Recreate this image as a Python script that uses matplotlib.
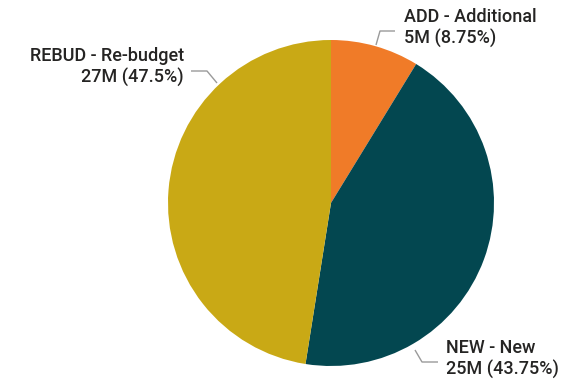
import numpy as np
import matplotlib
matplotlib.use("Agg")
import matplotlib.pyplot as plt

# Budget types and amounts (millions)
categories = ["ADD - Additional", "NEW - New", "REBUD - Re-budget"]
amount_labels = ["5M", "25M", "27M"]
shares = [8.75, 43.75, 47.5]
colors = ["#F07B28", "#034750", "#C9A915"]

W, H = 569, 379
CX, CY, R = 331, 203, 163

plt.rcParams["font.family"] = ["Roboto", "DejaVu Sans"]

fig = plt.figure(figsize=(W / 100, H / 100), dpi=100)
ax = fig.add_axes([0, 0, 1, 1])

ax.pie(shares, colors=colors, startangle=90, counterclock=False, radius=1,
       wedgeprops=dict(linewidth=0))

# pie() resets the limits, so set them afterwards
ax.set_xlim(-CX / R, (W - CX) / R)
ax.set_ylim(-(H - CY) / R, CY / R)
ax.set_aspect("equal")
ax.axis("off")


def to_data(px, py):
    return (px - CX) / R, (CY - py) / R


# leader line: edge point, elbow, end of horizontal run, text anchor
leaders = [
    dict(pts=[(376, 45), (380, 31), (395, 31)], text=(404, 28), ha="left"),
    dict(pts=[(415, 350), (422, 362), (438, 362)], text=(446, 359), ha="left"),
    dict(pts=[(217, 83), (207, 71), (191, 71)], text=(184, 67), ha="right"),
]

for cat, amt, share, ld in zip(categories, amount_labels, shares, leaders):
    xs, ys = zip(*[to_data(*p) for p in ld["pts"]])
    ax.plot(xs, ys, color="#9a9a9a", lw=1, solid_capstyle="butt")
    tx, ty = to_data(*ld["text"])
    ax.text(tx, ty, f"{cat}\n{amt} ({share:g}%)", ha=ld["ha"], va="center",
            fontsize=13, fontweight="medium", color="#252423",
            linespacing=1.15, multialignment=ld["ha"])

fig.savefig("out.png", dpi=100, facecolor="white")
